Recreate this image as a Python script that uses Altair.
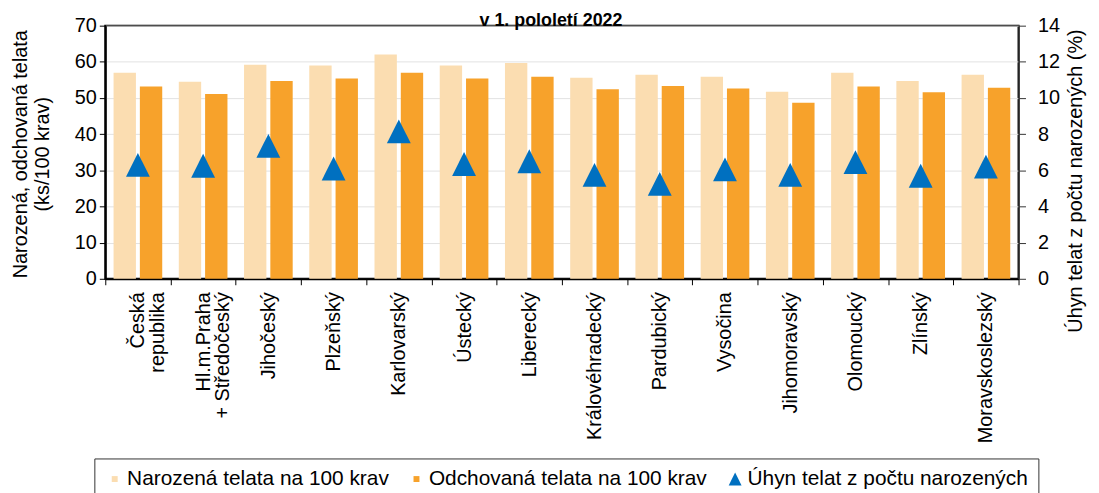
import json
import altair as alt
import pandas as pd

categories = ["Česká republika", "Hl.m.Praha + Středočeský", "Jihočeský", "Plzeňský",
              "Karlovarský", "Ústecký", "Liberecký", "Královéhradecký", "Pardubický",
              "Vysočina", "Jihomoravský", "Olomoucký", "Zlínský", "Moravskoslezský"]
narozena = [57.0, 54.5, 59.2, 59.0, 62.0, 59.0, 59.7, 55.6, 56.4, 55.9, 51.7, 57.0, 54.7, 56.4]
odchovana = [53.2, 51.1, 54.7, 55.4, 57.0, 55.4, 55.9, 52.4, 53.3, 52.6, 48.7, 53.2, 51.6, 52.8]
uhyn = [6.3, 6.25, 7.35, 6.1, 8.15, 6.35, 6.5, 5.75, 5.25, 6.05, 5.75, 6.45, 5.7, 6.2]

series_names = ["Narozená telata na 100 krav", "Odchovaná telata na 100 krav",
                "Úhyn telat z počtu narozených"]
series_colors = ["#FBDDB1", "#F7A22B", "#0070C0"]

# multi-line axis labels (shorter line padded so lines look centred)
label_lines = {
    "Česká republika": ["Česká\u00a0\u00a0", "republika"],
    "Hl.m.Praha + Středočeský": ["Hl.m.Praha\u00a0\u00a0", "+ Středočeský"],
}
title_text = "v 1. pololetí 2022"
left_title = ["Narozená, odchovaná telata", "(ks/100 krav)"]
right_title = "Úhyn telat z počtu narozených (%)"

bar_rows = []
for k, a, b in zip(categories, narozena, odchovana):
    bar_rows.append({"kraj": k, "serie": series_names[0], "hodnota": a})
    bar_rows.append({"kraj": k, "serie": series_names[1], "hodnota": b})
bar_df = pd.DataFrame(bar_rows)
pt_df = pd.DataFrame({"kraj": categories, "uhyn": uhyn, "serie": series_names[2]})

expr = "datum.label"
for k, v in label_lines.items():
    expr = f"datum.label == {json.dumps(k)} ? {json.dumps(v)} : ({expr})"

FONT = "Liberation Sans"

xaxis = alt.Axis(title=None, labelAngle=-90, labelAlign="right", labelBaseline="middle",
                 labelPadding=7, labelLineHeight=20, labelFontSize=20, labelOverlap=False,
                 labelLimit=400, tickBand="extent", tickSize=6, grid=False,
                 domainColor="black", domainWidth=2, tickColor="black", labelExpr=expr)

xscale = alt.Scale(type="band", paddingInner=0, paddingOuter=0)
color_scale = alt.Scale(domain=series_names, range=series_colors)
sq = "M-0.46,-0.46H0.46V0.46H-0.46Z"
tri = "M0,-1L1,1H-1Z"
shape_scale = alt.Scale(domain=series_names, range=[sq, sq, tri])

legend = alt.Legend(orient="none", legendX=-11, legendY=436, direction="horizontal",
                    columns=3, title=None, symbolSize=169, symbolStrokeWidth=0,
                    labelFontSize=21, labelOffset=2, columnPadding=17, padding=10,
                    strokeColor="#333", fillColor="white", labelFont=FONT,
                    labelColor="black", labelLimit=500, symbolType=tri)

bars = alt.Chart(bar_df).mark_bar().encode(
    x=alt.X("kraj:N", sort=categories, scale=xscale, axis=xaxis),
    xOffset=alt.XOffset("serie:N", sort=series_names[:2],
                        scale=alt.Scale(paddingInner=0.15, paddingOuter=0.315)),
    y=alt.Y("hodnota:Q", scale=alt.Scale(domain=[0, 70], nice=False),
            axis=alt.Axis(values=list(range(0, 71, 10)), title=left_title, orient="left",
                          grid=True, gridColor="#e2e2e2", tickSize=6, labelPadding=3,
                          domainColor="black", domainWidth=2, tickColor="black",
                          titleAngle=270, titleX=-79, titleY=129, titleAlign="center",
                          titleBaseline="alphabetic", titleLineHeight=22)),
    color=alt.Color("serie:N", scale=color_scale, legend=legend),
)

points = alt.Chart(pt_df).mark_point(filled=True, opacity=1, size=576).encode(
    x=alt.X("kraj:N", sort=categories, scale=xscale, axis=xaxis),
    y=alt.Y("uhyn:Q", scale=alt.Scale(domain=[0, 14], nice=False),
            axis=alt.Axis(values=list(range(0, 15, 2)), title=right_title, orient="right",
                          grid=False, tickSize=7, labelPadding=12, domainColor="#333",
                          domainWidth=1.5, tickColor="#333", titleAngle=270, titleX=63,
                          titleY=156, titleAlign="center", titleBaseline="alphabetic")),
    color=alt.Color("serie:N", scale=color_scale, legend=legend),
    shape=alt.Shape("serie:N", scale=shape_scale, legend=legend),
)

chart = alt.layer(bars, points).resolve_scale(y="independent").properties(
    width=920, height=255,
    autosize=alt.AutoSizeParams(type="none"),
    padding={"left": 98, "top": 16, "right": 73, "bottom": 214},
    title=alt.Title(title_text, fontSize=18, fontWeight="bold", font=FONT, color="black",
                    anchor="middle", baseline="alphabetic", offset=0, dy=28, dx=-11),
).configure(font=FONT).configure_view(stroke="black", strokeWidth=2).configure_axis(
    labelFont=FONT, titleFont=FONT, labelFontSize=20, titleFontSize=20,
    labelColor="black", titleColor="black", titleFontWeight="normal",
)

chart.save("out.html", embed_options={"renderer": "svg", "actions": False})
